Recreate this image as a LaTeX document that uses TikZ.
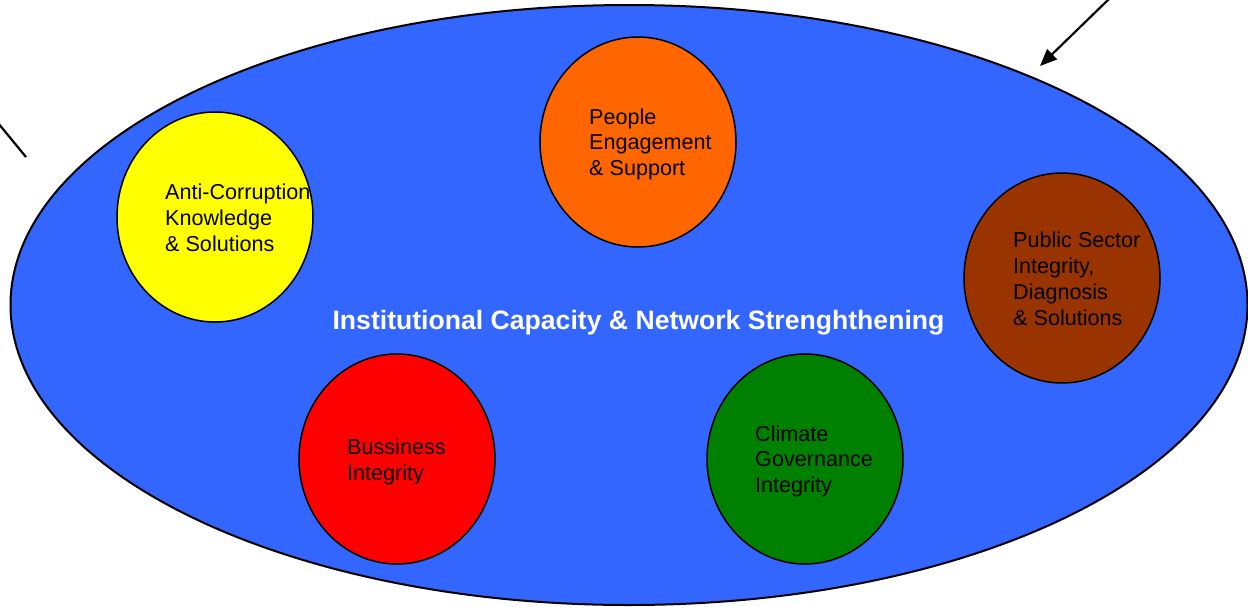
\documentclass[tikz,border=0pt]{standalone}
\usepackage{fontspec}
\setmainfont{Liberation Sans}
\usetikzlibrary{shapes.geometric,arrows.meta}
\definecolor{bigblue}{HTML}{3366FF}
\definecolor{cyellow}{HTML}{FFFF00}
\definecolor{corange}{HTML}{FF6600}
\definecolor{cbrown}{HTML}{993300}
\definecolor{cred}{HTML}{FF0000}
\definecolor{cgreen}{HTML}{008000}
\tikzset{
  bigoval/.style={ellipse, draw=black, line width=2pt, fill=bigblue, minimum width=1237pt, minimum height=600pt, inner sep=0pt},
  blob/.style={ellipse, draw=black, line width=1.5pt, minimum width=196pt, minimum height=210pt, inner sep=0pt},
  blobtext/.style={anchor=base west, align=left, inner sep=0pt, font=\fontsize{21.6}{25.7}\selectfont, text=black},
  titletext/.style={anchor=base, inner sep=0pt, font=\fontsize{26.6}{30}\selectfont\bfseries, text=white},
  pointer/.style={line width=2.2pt, draw=black}
}
\begin{document}
\begin{tikzpicture}[x=1pt,y=-1pt]
\useasboundingbox (0,0) rectangle (1248,606);
\node[bigoval] (oval) at (629,305) {};
\node[blob, fill=cyellow] (ac) at (215,217) {};
\node[blob, fill=corange] (pe) at (638,142) {};
\node[blob, fill=cbrown] (ps) at (1062,278) {};
\node[blob, fill=cred] (bi) at (397,459) {};
\node[blob, fill=cgreen] (cg) at (805,459) {};
% base anchor = baseline of the last line
\node[blobtext] (actext) at (165,251) {Anti-Corruption\\Knowledge\\\& Solutions};
\node[blobtext] (petext) at (589,175.5) {People\\Engagement\\\& Support};
\node[blobtext] (pstext) at (1013,325) {Public Sector\\Integrity,\\Diagnosis\\\& Solutions};
\node[blobtext] (bitext) at (347,480) {Bussiness\\Integrity};
\node[blobtext] (cgtext) at (755,492.5) {Climate\\Governance\\Integrity};
\node[titletext] (title) at (638.5,329) {Institutional Capacity \& Network Strenghthening};
\coordinate (lstart) at (-2,123);
\coordinate (lend) at (26,157);
\coordinate (astart) at (1110,-2);
\coordinate (aend) at (1040,66);
\draw[pointer] (lstart) -- (lend);
\draw[pointer, -{Triangle[length=17pt,width=14pt]}] (astart) -- (aend);
\end{tikzpicture}
\end{document}
